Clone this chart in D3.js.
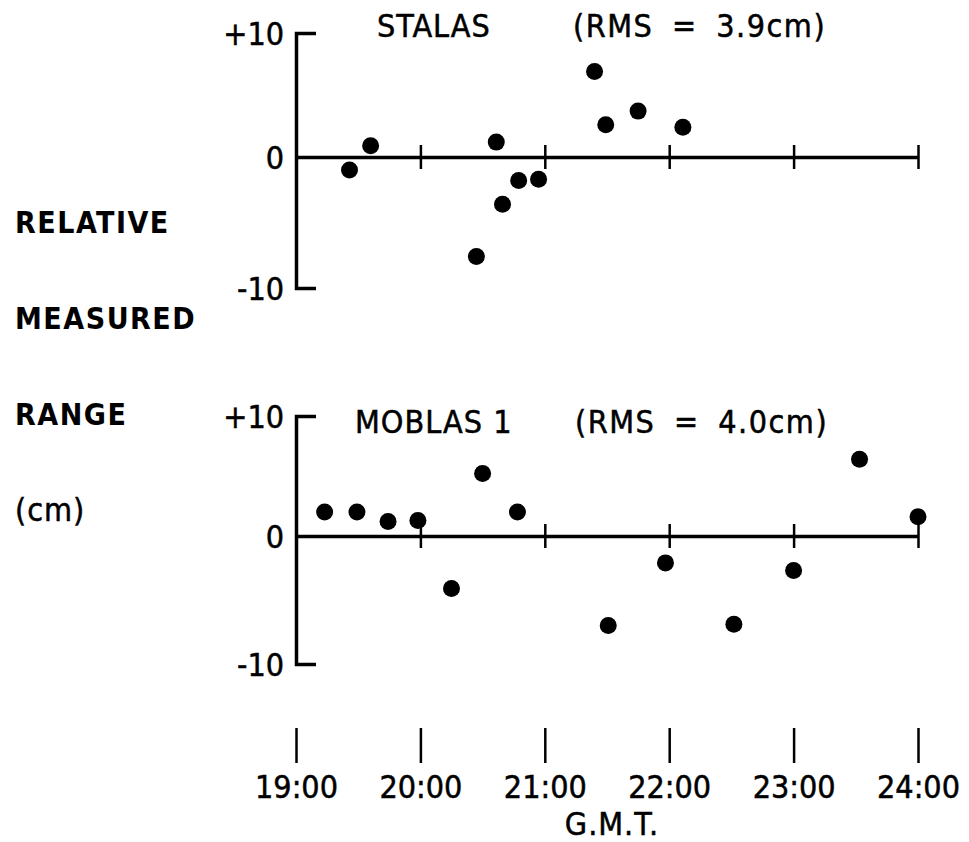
<!DOCTYPE html>
<html>
<head>
<meta charset="utf-8">
<script src="https://cdn.jsdelivr.net/npm/d3@7"></script>
<style>
  body { margin: 0; background: #fff; }
  svg { display: block; }
  text { font-family: "DejaVu Sans Condensed", "DejaVu Sans", sans-serif; font-stretch: condensed; fill: #000; }
  .lbl { font-weight: bold; font-size: 30px; letter-spacing: 1.5px; }
  .num { font-size: 32px; stroke: #000; stroke-width: 0.5px; }
</style>
</head>
<body>
<svg width="969" height="842"></svg>
<script>
// time in decimal hours (G.M.T.), range residual in cm
var stalasTime  = [19.43, 19.60, 20.45, 20.61, 20.66, 20.79, 20.95, 21.40, 21.49, 21.75, 22.11];
var stalasRange = [-1.0, 0.9, -7.6, 1.2, -3.6, -1.8, -1.7, 6.9, 2.6, 3.7, 2.4];

var moblasTime  = [19.23, 19.49, 19.74, 19.98, 20.25, 20.50, 20.78, 21.51, 21.97, 22.52, 23.00, 23.53, 24.00];
var moblasRange = [2.0, 2.0, 1.2, 1.3, -4.1, 5.2, 2.0, -7.0, -2.1, -6.9, -2.7, 6.4, 1.6];

var hourTicks  = [19, 20, 21, 22, 23, 24];
var hourLabels = ["19:00", "20:00", "21:00", "22:00", "23:00", "24:00"];
var rangeTicks = [-10, 0, 10];

var panels = [
  { name: "STALAS", rms: "(RMS = 3.9cm)", time: stalasTime, range: stalasRange,
    yr: [288, 157, 33], titleX: 377, rmsX: 573, titleY: 37 },
  { name: "MOBLAS 1", rms: "(RMS = 4.0cm)", time: moblasTime, range: moblasRange,
    yr: [664, 536, 416], titleX: 355, rmsX: 575, titleY: 433 }
];

var svg = d3.select("svg");

var x = d3.scaleLinear()
    .domain([19, 24])
    .range([296, 918]);

panels.forEach(function(p) {
  // zero sits a bit off centre in the original, so use a 3-stop scale
  var y = d3.scaleLinear()
      .domain([-10, 0, 10])
      .range(p.yr);

  // bracket shaped y axis
  svg.append("g")
      .attr("transform", "translate(" + x(19) + ",0)")
      .call(d3.axisRight(y).tickValues([]).tickSizeOuter(20))
      .select(".domain")
      .attr("stroke", "#000")
      .attr("stroke-width", 3.5)
      .attr("fill", "none");

  var yl = svg.append("g")
      .attr("transform", "translate(" + (x(19) - 12) + ",0)")
      .call(d3.axisLeft(y).tickValues(rangeTicks).tickSize(0).tickPadding(0)
        .tickFormat(function(d) { return d > 0 ? "+" + d : String(d); }));
  yl.select(".domain").remove();
  yl.selectAll("text")
      .attr("class", "num")
      .attr("font-family", null)
      .attr("font-size", null)
      .attr("dy", "0.36em");

  // zero line with crossing ticks
  var xb = svg.append("g")
      .attr("transform", "translate(0," + y(0) + ")")
      .call(d3.axisBottom(x).tickValues(hourTicks.slice(1)).tickSizeInner(12).tickSizeOuter(0).tickFormat(""));
  xb.select(".domain").attr("stroke-width", 3.5);
  xb.selectAll(".tick line").attr("stroke-width", 2.5);

  var xt = svg.append("g")
      .attr("transform", "translate(0," + y(0) + ")")
      .call(d3.axisTop(x).tickValues(hourTicks.slice(1)).tickSizeInner(12).tickSizeOuter(0).tickFormat(""));
  xt.select(".domain").remove();
  xt.selectAll(".tick line").attr("stroke-width", 2.5);

  svg.append("g")
    .selectAll("circle")
      .data(p.time)
      .enter()
      .append("circle")
      .attr("cx", function(d) { return x(d); })
      .attr("cy", function(d, i) { return y(p.range[i]); })
      .attr("r", 8.5)
      .attr("fill", "#000");

  svg.append("text")
      .attr("class", "num")
      .attr("x", p.titleX)
      .attr("y", p.titleY)
      .style("letter-spacing", "1px")
      .text(p.name);

  svg.append("text")
      .attr("class", "num")
      .attr("x", p.rmsX)
      .attr("y", p.titleY)
      .attr("xml:space", "preserve")
      .style("letter-spacing", "1.5px")
      .style("word-spacing", "8px")
      .text(p.rms);
});

// separate time scale at the bottom
var xg = svg.append("g")
    .attr("transform", "translate(0,728)")
    .call(d3.axisBottom(x).tickValues(hourTicks).tickSizeInner(35).tickSizeOuter(0).tickPadding(12)
      .tickFormat(function(d, i) { return hourLabels[i]; }));
xg.select(".domain").remove();
xg.selectAll(".tick line").attr("stroke-width", 2.5);
xg.selectAll("text")
    .attr("class", "num")
    .attr("font-family", null)
    .attr("font-size", null);

svg.append("text")
    .attr("class", "num")
    .attr("x", 612)
    .attr("y", 835)
    .attr("text-anchor", "middle")
    .style("letter-spacing", "1px")
    .text("G.M.T.");

// left label
var yLabel = ["RELATIVE", "MEASURED", "RANGE"];
svg.selectAll(".lbl")
    .data(yLabel)
    .enter()
    .append("text")
    .attr("class", "lbl")
    .attr("x", 15)
    .attr("y", function(d, i) { return 233 + i * 96; })
    .text(function(d) { return d; });

svg.append("text")
    .attr("class", "num")
    .attr("x", 15)
    .attr("y", 521)
    .style("letter-spacing", "1px")
    .text("(cm)");
</script>
</body>
</html>
